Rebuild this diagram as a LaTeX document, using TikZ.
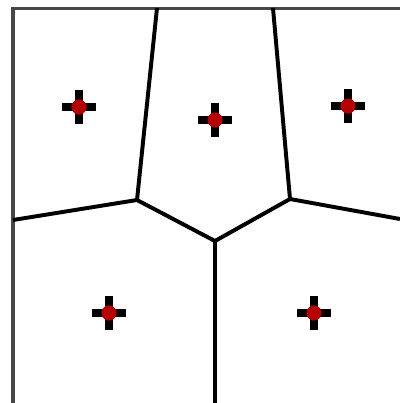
\documentclass[tikz,border=0pt]{standalone}
\definecolor{siteRed}{RGB}{180,0,0}
\begin{document}
\begin{tikzpicture}[x=0.025cm, y=-0.025cm,
		frame/.style={line width=2.4pt, black!72},
		edge/.style={line width=2.8pt, black},
		cross/.style={line width=5pt, black},
		site/.style={circle, fill=siteRed, inner sep=0pt, minimum size=0.38cm}]
		\useasboundingbox (0,0) rectangle (400,403);
		\draw[frame] (13,403) -- (13,8.5) -- (400,8.5);
		% vertices of the cells
		\coordinate (A) at (137,200);
		\coordinate (B) at (215,241);
		\coordinate (C) at (290,199);
		\coordinate (T1) at (157,8);
		\coordinate (T2) at (273,8);
		\coordinate (L) at (13,220);
		\coordinate (R) at (400,219);
		\coordinate (D) at (215,403);
		\draw[edge] (T1) -- (A) -- (B) -- (C) -- (T2);
		\draw[edge] (L) -- (A);
		\draw[edge] (C) -- (R);
		\draw[edge] (B) -- (D);
		% sites
		\foreach \name/\pos in {S1/{(79,107)}, S2/{(215,120)}, S3/{(348,106)}, S4/{(109,313)}, S5/{(314,313)}} {
			\draw[cross] \pos ++(-17,0) -- ++(34,0);
			\draw[cross] \pos ++(0,-17) -- ++(0,34);
			\node[site] (\name) at \pos {};
		}
	\end{tikzpicture}
\end{document}
